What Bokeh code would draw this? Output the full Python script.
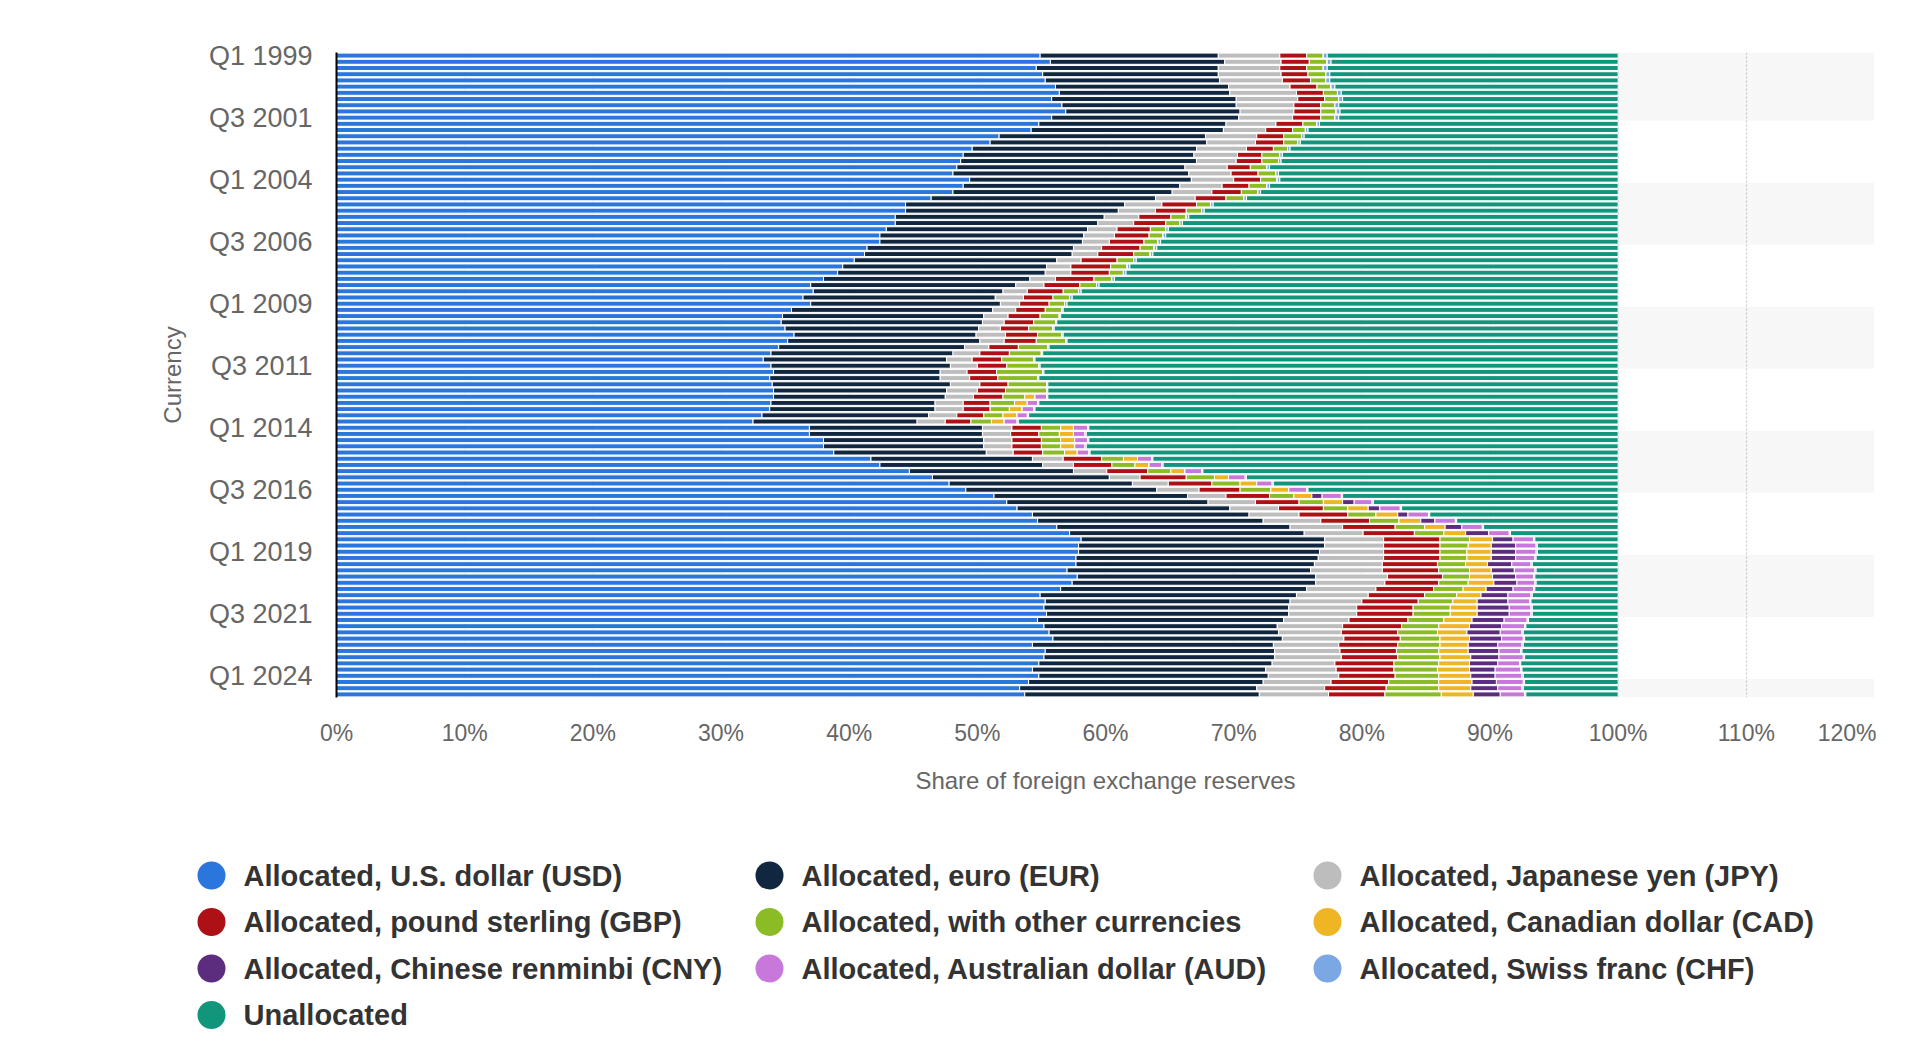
from bokeh.plotting import figure
from bokeh.models import ColumnDataSource, Range1d, FixedTicker, PrintfTickFormatter
from bokeh.embed import file_html
from bokeh.resources import INLINE
from bokeh.core.properties import value

# ---------------- data (share of total foreign exchange reserves, %) ----------------
quarters = [f"Q{q} {y}" for y in range(1999, 2025) for q in range(1, 5)]

usd = [54.9, 55.7, 54.6, 55.1, 55.3, 56.1, 56.4, 55.8, 56.6, 56.9,
       55.8, 54.8, 54.2, 51.7, 51.0, 49.6, 48.9, 48.7, 48.4, 48.1,
       49.4, 48.9, 48.1, 46.4, 44.4, 44.4, 43.6, 43.6, 42.9, 42.4,
       42.4, 41.4, 41.2, 40.4, 39.5, 39.1, 38.0, 37.0, 37.2, 36.4,
       37.0, 35.5, 34.8, 34.7, 35.0, 35.7, 35.2, 34.5, 33.9, 33.3,
       33.9, 34.1, 33.8, 34.0, 34.1, 34.1, 33.9, 33.8, 33.2, 32.5,
       36.9, 36.9, 38.0, 38.0, 38.8, 41.7, 42.4, 44.7, 46.5, 47.8,
       49.1, 51.3, 52.3, 53.1, 54.3, 54.7, 56.2, 57.2, 58.1, 57.9,
       57.9, 57.7, 57.7, 57.0, 57.8, 57.4, 56.5, 54.9, 55.3, 55.2,
       55.4, 54.7, 55.2, 55.6, 55.9, 54.3, 55.3, 55.2, 54.8, 54.3,
       54.8, 54.0, 53.3, 53.7]

eur = [13.9, 13.6, 14.2, 13.7, 13.6, 13.5, 13.3, 14.4, 13.6, 13.6,
       14.6, 14.6, 15.0, 16.1, 16.9, 17.5, 18.0, 18.4, 17.8, 18.4,
       17.3, 16.9, 17.1, 17.5, 17.1, 16.6, 16.3, 15.8, 15.7, 15.9,
       15.8, 16.1, 16.2, 15.8, 15.9, 16.2, 16.1, 16.0, 14.8, 15.0,
       14.8, 15.7, 15.7, 15.7, 15.1, 14.2, 15.0, 14.5, 14.2, 14.3,
       14.0, 13.0, 13.3, 13.9, 13.5, 13.4, 12.8, 12.9, 13.0, 12.8,
       13.5, 13.5, 12.5, 12.5, 11.9, 12.6, 12.7, 12.8, 13.8, 14.3,
       14.9, 15.1, 15.7, 16.6, 16.9, 17.6, 18.2, 18.3, 19.0, 19.2,
       18.8, 18.9, 18.6, 19.0, 18.6, 19.0, 19.2, 20.0, 19.1, 19.1,
       18.9, 19.2, 18.2, 17.9, 17.9, 18.8, 17.9, 18.0, 18.2, 18.2,
       17.9, 18.3, 18.5, 18.3]

jpy = [4.8, 4.4, 4.8, 4.9, 4.9, 4.8, 5.2, 4.8, 4.5, 4.2,
       4.2, 3.9, 3.3, 4.0, 3.8, 3.9, 3.4, 3.1, 3.3, 3.3,
       3.3, 3.3, 3.1, 3.1, 2.9, 2.9, 2.7, 2.8, 2.3, 2.4,
       2.1, 2.2, 2.0, 1.9, 1.9, 2.0, 2.0, 2.2, 1.9, 2.2,
       1.5, 1.8, 1.9, 1.7, 1.7, 2.3, 1.9, 1.9, 2.1, 2.0,
       2.1, 2.1, 2.3, 2.3, 2.4, 2.2, 2.2, 2.2, 2.2, 2.2,
       2.3, 2.2, 2.2, 2.2, 2.1, 2.4, 2.4, 2.6, 2.4, 2.8,
       3.3, 3.0, 3.7, 3.8, 3.9, 4.5, 4.1, 4.6, 4.6, 4.6,
       5.0, 5.1, 5.3, 5.6, 5.6, 5.4, 5.4, 5.6, 5.6, 5.3,
       5.3, 5.1, 5.1, 4.9, 4.8, 5.1, 5.1, 5.2, 4.9, 5.5,
       5.5, 5.3, 5.3, 5.4]

gbp = [2.1, 2.2, 2.1, 2.1, 2.2, 2.1, 2.1, 2.1, 2.1, 2.1,
       2.2, 2.1, 2.1, 2.1, 2.2, 2.1, 1.9, 2.0, 1.8, 2.1,
       2.1, 2.1, 2.3, 2.4, 2.7, 2.4, 2.5, 2.5, 2.6, 2.7,
       2.7, 3.0, 2.8, 2.8, 3.1, 3.0, 3.0, 2.8, 2.8, 2.3,
       2.3, 2.3, 2.5, 2.3, 2.2, 2.5, 2.5, 2.3, 2.3, 2.3,
       2.3, 2.3, 2.2, 2.2, 2.2, 2.3, 2.1, 2.1, 2.1, 2.0,
       2.3, 2.2, 2.3, 2.3, 2.3, 3.0, 3.0, 3.2, 3.6, 3.4,
       3.2, 3.4, 3.4, 3.5, 3.8, 3.8, 4.1, 4.0, 4.4, 4.4,
       4.4, 4.4, 4.3, 4.4, 4.3, 4.2, 4.5, 4.4, 4.4, 4.4,
       4.4, 4.6, 4.6, 4.4, 4.4, 4.6, 4.4, 4.4, 4.6, 4.5,
       4.4, 4.5, 4.8, 4.4]

other = [1.3, 1.4, 1.3, 1.4, 1.2, 1.1, 1.1, 1.1, 1.1, 1.2,
         1.1, 1.1, 1.0, 1.4, 1.1, 1.1, 1.4, 1.3, 1.3, 1.4,
         1.3, 1.4, 1.3, 1.4, 1.1, 1.2, 1.2, 1.1, 1.2, 1.1,
         1.1, 1.1, 1.3, 1.3, 1.3, 1.1, 1.4, 1.3, 1.2, 1.3,
         1.2, 1.3, 1.5, 1.7, 1.9, 1.9, 2.3, 2.3, 2.5, 2.5,
         2.5, 3.6, 3.1, 3.0, 3.2, 1.7, 1.9, 1.5, 1.5, 1.6,
         1.5, 1.6, 1.5, 1.5, 1.7, 1.7, 1.8, 1.8, 2.2, 2.2,
         2.4, 1.9, 1.9, 1.9, 2.2, 2.3, 2.3, 2.3, 2.3, 2.2,
         2.1, 2.1, 2.2, 2.4, 2.1, 2.3, 2.3, 2.5, 2.7, 2.9,
         2.9, 2.8, 2.9, 3.1, 3.1, 3.3, 3.3, 3.3, 3.5, 3.4,
         3.4, 3.9, 4.1, 4.4]

cad = [0.0, 0.0, 0.0, 0.0, 0.0, 0.0, 0.0, 0.0, 0.0, 0.0,
       0.0, 0.0, 0.0, 0.0, 0.0, 0.0, 0.0, 0.0, 0.0, 0.0,
       0.0, 0.0, 0.0, 0.0, 0.0, 0.0, 0.0, 0.0, 0.0, 0.0,
       0.0, 0.0, 0.0, 0.0, 0.0, 0.0, 0.0, 0.0, 0.0, 0.0,
       0.0, 0.0, 0.0, 0.0, 0.0, 0.0, 0.0, 0.0, 0.0, 0.0,
       0.0, 0.0, 0.0, 0.0, 0.0, 0.8, 1.0, 1.0, 1.1, 1.0,
       1.0, 1.1, 1.1, 1.1, 1.0, 1.1, 1.1, 1.1, 1.1, 1.3,
       1.4, 1.4, 1.5, 1.6, 1.7, 1.7, 1.6, 1.7, 1.8, 1.8,
       1.9, 1.9, 1.7, 1.7, 1.8, 2.0, 1.8, 1.9, 1.9, 2.1,
       2.1, 2.2, 2.4, 2.3, 2.3, 2.2, 2.3, 2.4, 2.4, 2.5,
       2.5, 2.6, 2.5, 2.5]

cny = [0.0, 0.0, 0.0, 0.0, 0.0, 0.0, 0.0, 0.0, 0.0, 0.0,
       0.0, 0.0, 0.0, 0.0, 0.0, 0.0, 0.0, 0.0, 0.0, 0.0,
       0.0, 0.0, 0.0, 0.0, 0.0, 0.0, 0.0, 0.0, 0.0, 0.0,
       0.0, 0.0, 0.0, 0.0, 0.0, 0.0, 0.0, 0.0, 0.0, 0.0,
       0.0, 0.0, 0.0, 0.0, 0.0, 0.0, 0.0, 0.0, 0.0, 0.0,
       0.0, 0.0, 0.0, 0.0, 0.0, 0.0, 0.0, 0.0, 0.0, 0.0,
       0.0, 0.0, 0.0, 0.0, 0.0, 0.0, 0.0, 0.0, 0.0, 0.0,
       0.0, 0.8, 0.9, 0.9, 0.8, 1.1, 1.3, 1.8, 1.6, 1.9,
       1.9, 1.9, 1.9, 1.8, 1.8, 1.8, 2.1, 2.1, 2.4, 2.5,
       2.5, 2.5, 2.5, 2.6, 2.5, 2.3, 2.4, 2.2, 2.2, 2.0,
       1.9, 1.9, 2.1, 2.1]

aud = [0.0, 0.0, 0.0, 0.0, 0.0, 0.0, 0.0, 0.0, 0.0, 0.0,
       0.0, 0.0, 0.0, 0.0, 0.0, 0.0, 0.0, 0.0, 0.0, 0.0,
       0.0, 0.0, 0.0, 0.0, 0.0, 0.0, 0.0, 0.0, 0.0, 0.0,
       0.0, 0.0, 0.0, 0.0, 0.0, 0.0, 0.0, 0.0, 0.0, 0.0,
       0.0, 0.0, 0.0, 0.0, 0.0, 0.0, 0.0, 0.0, 0.0, 0.0,
       0.0, 0.0, 0.0, 0.0, 0.0, 0.9, 0.8, 0.9, 0.8, 1.0,
       1.1, 0.9, 1.0, 0.8, 0.9, 1.1, 1.0, 1.3, 1.3, 1.2,
       1.4, 1.5, 1.4, 1.6, 1.6, 1.6, 1.6, 1.6, 1.6, 1.6,
       1.6, 1.5, 1.5, 1.6, 1.4, 1.4, 1.6, 1.8, 1.7, 1.7,
       1.7, 1.8, 1.8, 1.7, 1.7, 1.9, 1.7, 1.9, 1.7, 2.0,
       2.1, 2.1, 1.9, 1.9]

chf = [0.3, 0.3, 0.3, 0.3, 0.3, 0.3, 0.3, 0.3, 0.3, 0.3,
       0.3, 0.2, 0.2, 0.2, 0.2, 0.2, 0.2, 0.2, 0.2, 0.2,
       0.2, 0.2, 0.2, 0.2, 0.2, 0.2, 0.2, 0.2, 0.2, 0.2,
       0.2, 0.2, 0.2, 0.2, 0.2, 0.2, 0.2, 0.2, 0.2, 0.2,
       0.2, 0.1, 0.1, 0.1, 0.1, 0.1, 0.1, 0.1, 0.1, 0.1,
       0.1, 0.1, 0.1, 0.1, 0.1, 0.1, 0.1, 0.1, 0.1, 0.1,
       0.1, 0.1, 0.1, 0.1, 0.1, 0.1, 0.1, 0.1, 0.1, 0.1,
       0.1, 0.1, 0.1, 0.1, 0.1, 0.1, 0.1, 0.1, 0.1, 0.1,
       0.1, 0.1, 0.1, 0.1, 0.1, 0.1, 0.1, 0.1, 0.1, 0.1,
       0.1, 0.1, 0.1, 0.1, 0.1, 0.1, 0.1, 0.1, 0.1, 0.1,
       0.1, 0.1, 0.1, 0.1]

unallocated = [22.7, 22.4, 22.7, 22.5, 22.5, 22.1, 21.6, 21.5, 21.8, 21.7,
               21.8, 23.3, 24.2, 24.5, 24.8, 25.6, 26.2, 26.3, 27.2, 26.5,
               26.4, 27.2, 27.9, 29.0, 31.6, 32.3, 33.5, 34.0, 35.1, 35.3,
               35.7, 36.0, 36.3, 37.6, 38.1, 38.4, 39.3, 40.5, 41.9, 42.6,
               43.0, 43.3, 43.5, 43.8, 44.0, 43.3, 43.0, 44.4, 44.9, 45.5,
               45.1, 44.8, 45.2, 44.5, 44.5, 44.5, 45.2, 45.5, 46.0, 46.8,
               41.3, 41.5, 41.3, 41.5, 41.2, 36.3, 35.5, 32.4, 29.0, 26.9,
               24.2, 21.5, 19.1, 16.9, 14.7, 12.6, 10.5, 8.4, 6.5, 6.3,
               6.3, 6.4, 6.7, 6.4, 6.5, 6.4, 6.5, 6.7, 6.8, 6.7,
               6.7, 7.0, 7.2, 7.4, 7.3, 7.4, 7.5, 7.3, 7.6, 7.5,
               7.4, 7.3, 7.4, 7.2]

series_keys = ["usd", "eur", "jpy", "gbp", "other", "cad", "cny", "aud", "chf", "unallocated"]
series_values = [usd, eur, jpy, gbp, other, cad, cny, aud, chf, unallocated]
series_labels = ["Allocated, U.S. dollar (USD)", "Allocated, euro (EUR)",
                 "Allocated, Japanese yen (JPY)", "Allocated, pound sterling (GBP)",
                 "Allocated, with other currencies", "Allocated, Canadian dollar (CAD)",
                 "Allocated, Chinese renminbi (CNY)", "Allocated, Australian dollar (AUD)",
                 "Allocated, Swiss franc (CHF)", "Unallocated"]
series_colors = ["#2A76DC", "#10273F", "#BDBDBD", "#AD1115", "#8BBC26",
                 "#EEB624", "#5C2C7E", "#C878DA", "#7BA8E5", "#12967B"]

x_ticks = [0, 10, 20, 30, 40, 50, 60, 70, 80, 90, 100, 110, 120]
label_step = 10

# ---------------- main chart ----------------
FONT = "Liberation Sans"
n = len(quarters)
idx = list(range(n))
data = {"idx": idx, "quarter": quarters}
for k, v in zip(series_keys, series_values):
    data[k] = v
src = ColumnDataSource(data)

W = 1908
p = figure(width=W, height=807,
           x_range=Range1d(0, x_ticks[-1]), y_range=Range1d(n - 0.5, -0.5),
           output_backend="svg", toolbar_location=None,
           min_border_left=336, min_border_right=34,
           min_border_top=52, min_border_bottom=110)
p.outline_line_color = None
p.background_fill_color = "white"
p.border_fill_color = "white"

# alternating light bands (every other group of label_step categories)
band_starts = [(i - 0.5 if i == 0 else i + 0.5) for i in range(0, n, 2 * label_step)]
band_ends = [min(i + label_step + 0.5, n - 0.5) for i in range(0, n, 2 * label_step)]
p.hbar(y=[(a + b) / 2 for a, b in zip(band_starts, band_ends)],
       height=[b - a for a, b in zip(band_starts, band_ends)],
       left=0, right=x_ticks[-1],
       fill_color="black", fill_alpha=0.03, line_color=None)

p.hbar_stack(series_keys, y="idx", height=0.8, source=src,
             fill_color=series_colors, line_color="white", line_width=1)

# x axis
p.xaxis.ticker = FixedTicker(ticks=x_ticks)
p.xaxis.formatter = PrintfTickFormatter(format="%d%%")
# keep the last label inside the chart edge, as in the original
p.xaxis.major_label_overrides = {x_ticks[-1]: f"{x_ticks[-1]}%" + "\u00a0" * 5}
p.xaxis.axis_line_color = None
p.xaxis.major_tick_line_color = None
p.xaxis.minor_tick_line_color = None
p.xaxis.major_label_text_font = FONT
p.xaxis.major_label_text_font_size = "23px"
p.xaxis.major_label_text_color = "#666666"
p.xaxis.major_label_standoff = 16
p.xaxis.axis_label = "Share of foreign exchange reserves"
p.xaxis.axis_label_text_font = FONT
p.xaxis.axis_label_text_font_size = "24px"
p.xaxis.axis_label_text_font_style = "normal"
p.xaxis.axis_label_text_color = "#666666"
p.xaxis.axis_label_standoff = 18

# y axis
y_tick_pos = list(range(0, n, label_step))
p.yaxis.ticker = FixedTicker(ticks=y_tick_pos)
p.yaxis.major_label_overrides = {i: quarters[i] for i in y_tick_pos}
p.yaxis.axis_line_color = "#000000"
p.yaxis.axis_line_width = 2
p.yaxis.major_tick_line_color = None
p.yaxis.minor_tick_line_color = None
p.yaxis.major_label_text_font = FONT
p.yaxis.major_label_text_font_size = "27px"
p.yaxis.major_label_text_color = "#666666"
p.yaxis.major_label_standoff = 18
p.yaxis.axis_label = "Currency"
p.yaxis.axis_label_text_font = FONT
p.yaxis.axis_label_text_font_size = "24px"
p.yaxis.axis_label_text_font_style = "normal"
p.yaxis.axis_label_text_color = "#666666"
p.yaxis.axis_label_standoff = 20

p.xgrid.ticker = FixedTicker(ticks=x_ticks)
p.xgrid.grid_line_color = "#c8c8c8"
p.xgrid.grid_line_dash = "2 2"
p.xgrid.grid_line_width = 1
p.ygrid.grid_line_color = None

# ---------------- legend (3 columns), separate root so it is not frame-aligned ----------------
LH = 233
lg = figure(width=W, height=LH, x_range=Range1d(0, W), y_range=Range1d(LH, 0),
            output_backend="svg", toolbar_location=None,
            x_axis_type=None, y_axis_type=None, min_border=0)
lg.outline_line_color = None
lg.grid.visible = False

ncol = 3
col_w = 558
row_h = 46.5
x0, y0 = 211, 68
lx = [x0 + col_w * (i % ncol) for i in range(len(series_labels))]
ly = [y0 + row_h * (i // ncol) for i in range(len(series_labels))]
lg.scatter(x=lx, y=ly, size=28, marker="circle", fill_color=series_colors, line_color=None)
lg.text(x=[x + 32 for x in lx], y=ly, text=series_labels,
        text_font=value(FONT), text_font_size="29px", text_font_style="bold",
        text_color="#333333", text_baseline="middle", text_align="left")

open("out.html", "w").write(file_html([p, lg], INLINE))
